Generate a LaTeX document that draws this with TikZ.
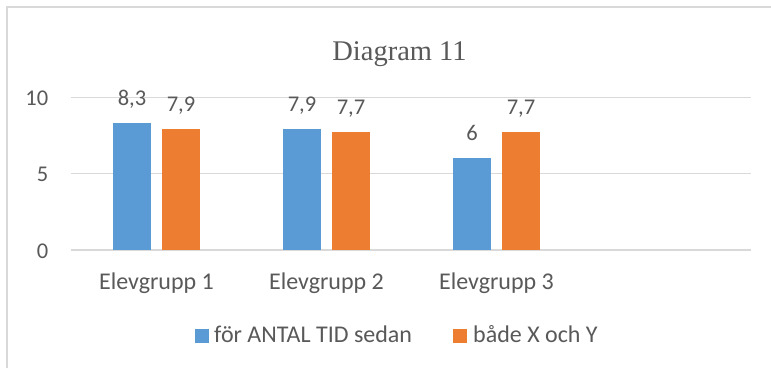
\documentclass[tikz,border=0pt]{standalone}
\usepackage{fontspec}
\setmainfont{Carlito}
\newfontfamily\titlefont{Liberation Serif}
\definecolor{barblue}{HTML}{5B9BD5}
\definecolor{barorange}{HTML}{ED7D31}
\definecolor{gridgray}{HTML}{D9D9D9}
\definecolor{txtgray}{HTML}{595959}
\tikzset{
  barbox/.style={inner sep=0pt, minimum width=38pt, anchor=south, draw=none},
  vallabel/.style={anchor=base, inner sep=0pt, text=txtgray, font=\fontsize{22.5}{26}\selectfont},
  axlabel/.style={anchor=east, inner sep=0pt, text=txtgray, font=\fontsize{22.5}{26}\selectfont},
  catlabel/.style={anchor=base, inner sep=0pt, text=txtgray, font=\fontsize{24}{28}\selectfont},
  legtext/.style={anchor=base west, inner sep=0pt, text=txtgray, font=\fontsize{24}{28}\selectfont},
  legbox/.style={inner sep=0pt, minimum size=14pt},
  gridline/.style={draw=gridgray, line width=1.2pt},
  framebox/.style={draw=gridgray, line width=1.5pt}
}
\begin{document}
\begin{tikzpicture}[x=1pt,y=-1pt]
\useasboundingbox (0,0) rectangle (771,368);
\fill[white] (0,0) rectangle (771,368);
\draw[framebox] (7,368) -- (7,7) -- (771,7);
% gridlines
\coordinate (g0a) at (71,250);   \coordinate (g0b) at (751,250);
\coordinate (g5a) at (71,173.75);\coordinate (g5b) at (751,173.75);
\coordinate (g10a) at (71,97.5); \coordinate (g10b) at (751,97.5);
\draw[gridline] (g0a) -- (g0b);
\draw[gridline] (g5a) -- (g5b);
\draw[gridline] (g10a) -- (g10b);
% axis labels
\node[axlabel] (a0) at (48.5,250.8) {0};
\node[axlabel] (a5) at (48.5,174.5) {5};
\node[axlabel] (a10) at (48.5,98.3) {10};
% title
\node[anchor=base, inner sep=0pt, text=txtgray, font=\titlefont\fontsize{28.5}{32}\selectfont] (title) at (399.5,60.5) {Diagram 11};
% bars
\foreach \c/\vb/\vo/\tb/\to/\n in {156.5/8.3/7.9/{8,3}/{7,9}/1, 326.5/7.9/7.7/{7,9}/{7,7}/2, 496.5/6/7.7/{6}/{7,7}/3}{
  \node[barbox, fill=barblue, minimum height=15.25*\vb pt] (b\n) at (\c-24.5,250) {};
  \node[barbox, fill=barorange, minimum height=15.25*\vo pt] (o\n) at (\c+24.5,250) {};
  \node[vallabel] (lb\n) at ([yshift=17.5pt]b\n.north) {\tb};
  \node[vallabel] (lo\n) at ([yshift=17.5pt]o\n.north) {\to};
  \node[catlabel] (cat\n) at (\c,289.3) {Elevgrupp \n};
}
% legend
\node[legbox, fill=barblue] (lg1) at (202,336) {};
\node[legtext] (lt1) at (214,342.3) {för ANTAL TID sedan};
\node[legbox, fill=barorange] (lg2) at (460,336) {};
\node[legtext] (lt2) at (473,342.3) {både X och Y};
\end{tikzpicture}
\end{document}
